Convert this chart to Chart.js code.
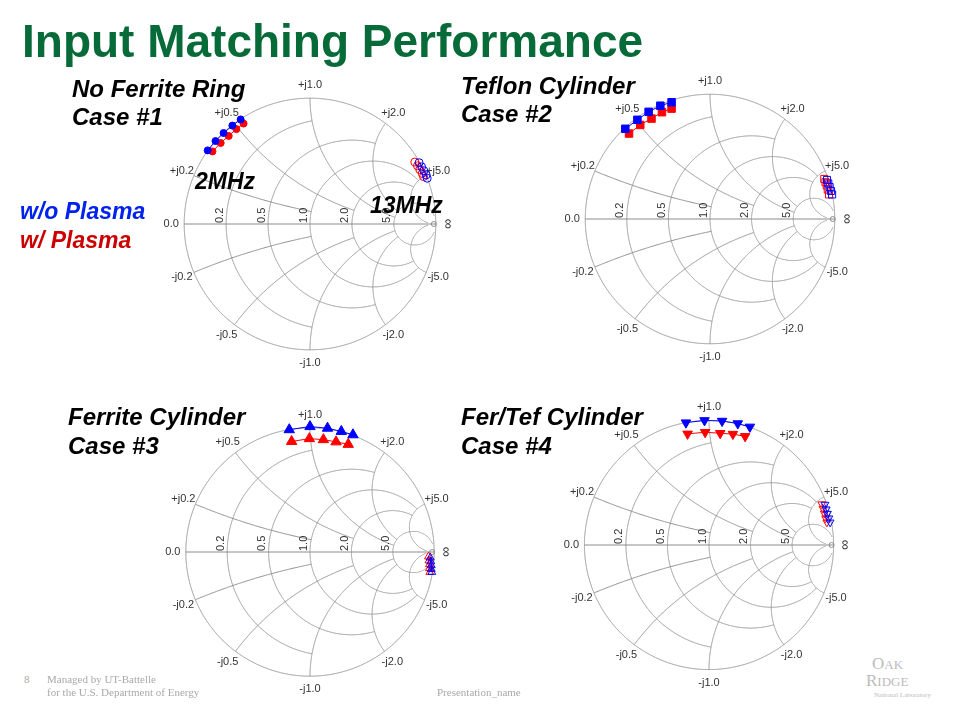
<!DOCTYPE html>
<html>
<head>
<meta charset="utf-8">
<script src="https://cdn.jsdelivr.net/npm/chart.js@4.4.1/dist/chart.umd.min.js"></script>
<style>
  body { margin: 0; width: 960px; height: 720px; background: #fff; position: relative; overflow: hidden; font-family: "Liberation Sans", Arial, sans-serif; }
  .t { position: absolute; white-space: nowrap; line-height: 1; }
  .case { font-size: 23px; font-weight: bold; font-style: italic; color: #000; }
  .big { font-size: 24px; }
  .foot { font-family: "Liberation Serif", "Times New Roman", serif; font-size: 11px; color: #a9a9a9; }
  canvas.smith { position: absolute; }
</style>
</head>
<body>
<canvas class="smith" id="case1" width="312" height="312" style="left:154px;top:68px"></canvas>
<canvas class="smith" id="case2" width="312" height="312" style="left:554px;top:63px"></canvas>
<canvas class="smith" id="case3" width="312" height="312" style="left:154px;top:396px"></canvas>
<canvas class="smith" id="case4" width="312" height="312" style="left:553px;top:389px"></canvas>

<div class="t" style="left:22px;top:18px;font-size:46px;font-weight:bold;color:#066b38">Input Matching Performance</div>

<div class="t case big" style="left:72px;top:77px">No Ferrite Ring</div>
<div class="t case big" style="left:72px;top:105px">Case #1</div>
<div class="t case big" style="left:461px;top:74px">Teflon Cylinder</div>
<div class="t case big" style="left:461px;top:102px">Case #2</div>
<div class="t case big" style="left:68px;top:405px">Ferrite Cylinder</div>
<div class="t case big" style="left:68px;top:434px">Case #3</div>
<div class="t case big" style="left:461px;top:405px">Fer/Tef Cylinder</div>
<div class="t case big" style="left:461px;top:434px">Case #4</div>

<div class="t case" style="left:195px;top:170px">2MHz</div>
<div class="t case" style="left:370px;top:194px">13MHz</div>
<div class="t case" style="left:20px;top:200px;color:#0022ee">w/o Plasma</div>
<div class="t case" style="left:20px;top:229px;color:#cc0000">w/ Plasma</div>

<div class="t foot" style="left:24px;top:674px">8</div>
<div class="t foot" style="left:47px;top:674px">Managed by UT-Battelle</div>
<div class="t foot" style="left:47px;top:687px">for the U.S. Department of Energy</div>
<div class="t foot" style="left:437px;top:687px">Presentation_name</div>
<div class="t foot" style="left:872px;top:655px;font-size:17px;color:#bbb">O<span style="font-size:13px">AK</span></div>
<div class="t foot" style="left:866px;top:672px;font-size:17px;color:#bbb">R<span style="font-size:13px">IDGE</span></div>
<div class="t foot" style="left:874px;top:692px;font-size:7px;color:#bbb">National Laboratory</div>

<script>
// Smith chart grid values (normalised impedance)
const RES_CIRCLES = [0.2, 0.5, 1.0, 2.0, 5.0];
const REACT_ARCS = [0.2, 0.5, 1.0, 2.0, 5.0];
const RES_LABELS = ['0.2', '0.5', '1.0', '2.0', '5.0'];

// Case #1 - no ferrite ring
const case1_2MHz_noPlasma = [[-0.813, 0.585], [-0.751, 0.659], [-0.687, 0.723], [-0.617, 0.782], [-0.551, 0.831]];
const case1_2MHz_plasma = [[-0.775, 0.577], [-0.710, 0.644], [-0.646, 0.700], [-0.585, 0.754], [-0.528, 0.798]];
const case1_13MHz_noPlasma = [[0.867, 0.487], [0.887, 0.454], [0.905, 0.423], [0.923, 0.390], [0.931, 0.364]];
const case1_13MHz_plasma = [[0.833, 0.492], [0.854, 0.462], [0.872, 0.433], [0.892, 0.402], [0.902, 0.377]];
// Case #2 - teflon cylinder
const case2_2MHz_noPlasma = [[-0.679, 0.723], [-0.582, 0.795], [-0.492, 0.859], [-0.398, 0.908], [-0.308, 0.936]];
const case2_2MHz_plasma = [[-0.649, 0.685], [-0.559, 0.754], [-0.469, 0.805], [-0.385, 0.856], [-0.308, 0.885]];
const case2_13MHz_noPlasma = [[0.938, 0.313], [0.948, 0.285], [0.959, 0.256], [0.969, 0.225], [0.979, 0.197]];
const case2_13MHz_plasma = [[0.916, 0.321], [0.926, 0.295], [0.936, 0.269], [0.944, 0.236], [0.954, 0.197]];
// Case #3 - ferrite cylinder
const case3_2MHz_noPlasma = [[-0.167, 0.985], [0.000, 1.010], [0.141, 0.997], [0.252, 0.971], [0.346, 0.944]];
const case3_2MHz_plasma = [[-0.148, 0.890], [-0.005, 0.913], [0.108, 0.905], [0.210, 0.887], [0.308, 0.867]];
const case3_13MHz_noPlasma = [[0.969, -0.046], [0.973, -0.077], [0.977, -0.108], [0.977, -0.138], [0.981, -0.162]];
const case3_13MHz_plasma = [[0.954, -0.038], [0.958, -0.069], [0.962, -0.100], [0.962, -0.131], [0.965, -0.162]];
// Case #4 - ferrite/teflon cylinder
const case4_2MHz_noPlasma = [[-0.185, 0.982], [-0.036, 1.000], [0.105, 0.995], [0.231, 0.975], [0.328, 0.948]];
const case4_2MHz_plasma = [[-0.172, 0.892], [-0.031, 0.905], [0.090, 0.897], [0.192, 0.890], [0.290, 0.872]];
const case4_13MHz_noPlasma = [[0.931, 0.325], [0.941, 0.287], [0.951, 0.252], [0.962, 0.215], [0.972, 0.182]];
const case4_13MHz_plasma = [[0.905, 0.328], [0.915, 0.292], [0.925, 0.254], [0.936, 0.215], [0.946, 0.182]];

const BLUE = '#0000ff';
const RED = '#ff0000';
const GRID_COLOR = '#8c8c8c';
const LABEL_COLOR = '#333';

// each grid curve runs until it meets the curve of this value
const RES_REACH = { 0.2: 1, 0.5: 2, 1: 5, 2: 5, 5: 30 };
const REACT_REACH = { 0.2: 1, 0.5: 2, 1: 5, 2: 5, 5: 30 };

// gamma -> normalised impedance
const zOf = (a, b) => {
    const d = (1 - a) * (1 - a) + b * b;
    return [(1 - a * a - b * b) / d, 2 * b / d];
};

const smithGrid = {
    id: 'smithGrid',
    beforeDatasetsDraw(chart) {
        const { ctx, scales } = chart;
        const X = v => scales.x.getPixelForValue(v);
        const Y = v => scales.y.getPixelForValue(v);
        ctx.save();
        ctx.strokeStyle = GRID_COLOR;
        ctx.lineWidth = 1;

        const trace = (cx, cy, rad, keep) => {
            const N = 4000;
            ctx.beginPath();
            let pen = false;
            for (let i = 0; i <= N; i++) {
                const t = i / N * 2 * Math.PI;
                const a = cx + rad * Math.cos(t), b = cy + rad * Math.sin(t);
                if (keep(a, b)) {
                    if (pen) ctx.lineTo(X(a), Y(b)); else ctx.moveTo(X(a), Y(b));
                    pen = true;
                } else {
                    pen = false;
                }
            }
            ctx.stroke();
        };

        trace(0, 0, 1, () => true);
        RES_CIRCLES.forEach(r => trace(r / (1 + r), 0, 1 / (1 + r),
            (a, b) => Math.abs(zOf(a, b)[1]) <= RES_REACH[r]));
        REACT_ARCS.forEach(x => [1, -1].forEach(s => trace(1, s / x, 1 / x,
            (a, b) => a * a + b * b <= 1.0001 && zOf(a, b)[0] <= REACT_REACH[x])));

        ctx.beginPath();
        ctx.moveTo(X(-1), Y(0));
        ctx.lineTo(X(1), Y(0));
        ctx.stroke();

        // small marker at the open-circuit point
        ctx.beginPath();
        ctx.arc(X(1) - 2, Y(0), 2.5, 0, 2 * Math.PI);
        ctx.stroke();

        // labels
        ctx.fillStyle = LABEL_COLOR;
        ctx.font = '11px "Liberation Sans", Arial, sans-serif';
        ctx.textAlign = 'center';
        ctx.textBaseline = 'middle';
        REACT_ARCS.forEach(x => [1, -1].forEach(s => {
            const v = s * x, d = 1 + v * v;
            const a = (v * v - 1) / d, b = 2 * v / d;
            ctx.fillText((s > 0 ? '+j' : '-j') + x.toFixed(1), X(a) + a * 13, Y(b) - b * 13);
        }));
        ctx.fillText('0.0', X(-1) - 13, Y(0));

        ctx.save();
        ctx.font = '14px "Liberation Sans", Arial, sans-serif';
        ctx.translate(X(1) + 12, Y(0));
        ctx.rotate(-Math.PI / 2);
        ctx.fillText('\u221E', 0, 0);
        ctx.restore();

        RES_CIRCLES.forEach((r, i) => {
            const a = (r - 1) / (r + 1);
            ctx.save();
            ctx.translate(X(a) - 1, Y(0) - 1);
            ctx.rotate(-Math.PI / 2);
            ctx.textAlign = 'left';
            ctx.textBaseline = 'bottom';
            ctx.fillText(RES_LABELS[i], 0, 0);
            ctx.restore();
        });
        ctx.restore();
    }
};

function series(pts, color, style, radius, filled, rotation) {
    return {
        data: pts.map(p => ({ x: p[0], y: p[1] })),
        showLine: true,
        borderColor: color,
        borderWidth: 1,
        pointStyle: style,
        pointRadius: radius,
        pointRotation: rotation || 0,
        pointBorderColor: color,
        pointBorderWidth: 1,
        pointBackgroundColor: filled ? color : 'rgba(0,0,0,0)',
        clip: false
    };
}

function makeSmith(id, datasets) {
    return new Chart(document.getElementById(id), {
        type: 'scatter',
        data: { datasets },
        options: {
            responsive: false,
            animation: false,
            events: [],
            layout: { padding: 0 },
            scales: {
                x: { type: 'linear', min: -1.2, max: 1.2, display: false },
                y: { type: 'linear', min: -1.2, max: 1.2, display: false }
            },
            plugins: { legend: { display: false }, tooltip: { enabled: false } }
        },
        plugins: [smithGrid]
    });
}

makeSmith('case1', [
    series(case1_2MHz_noPlasma, BLUE, 'circle', 3.5, true),
    series(case1_2MHz_plasma, RED, 'circle', 3.5, true),
    series(case1_13MHz_noPlasma, BLUE, 'circle', 4, false),
    series(case1_13MHz_plasma, RED, 'circle', 4, false)
]);
makeSmith('case2', [
    series(case2_2MHz_noPlasma, BLUE, 'rect', 5.3, true),
    series(case2_2MHz_plasma, RED, 'rect', 5.3, true),
    series(case2_13MHz_noPlasma, BLUE, 'rect', 5, false),
    series(case2_13MHz_plasma, RED, 'rect', 5, false)
]);
makeSmith('case3', [
    series(case3_2MHz_noPlasma, BLUE, 'triangle', 6, true),
    series(case3_2MHz_plasma, RED, 'triangle', 6, true),
    series(case3_13MHz_noPlasma, BLUE, 'triangle', 4.5, false),
    series(case3_13MHz_plasma, RED, 'triangle', 4.5, false)
]);
makeSmith('case4', [
    series(case4_2MHz_noPlasma, BLUE, 'triangle', 5.5, true, 180),
    series(case4_2MHz_plasma, RED, 'triangle', 5.5, true, 180),
    series(case4_13MHz_noPlasma, BLUE, 'triangle', 4.5, false, 180),
    series(case4_13MHz_plasma, RED, 'triangle', 4.5, false, 180)
]);
</script>
</body>
</html>
